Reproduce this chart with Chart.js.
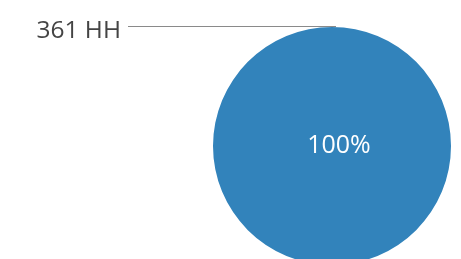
<!DOCTYPE html>
<html><head><meta charset="utf-8">
<script src="https://cdn.jsdelivr.net/npm/chart.js@4.4.1/dist/chart.umd.min.js"></script>
<style>
html,body{margin:0;padding:0;background:#fff;overflow:hidden;width:461px;height:259px;}
#wrap{position:relative;width:461px;height:280px;}
</style></head>
<body><div id="wrap"><canvas id="c" width="461" height="280"></canvas></div>
<script>
const categories = ["361 HH"];
const values = [100];
const sliceLabels = ["100%"];
const colors = ["#3283bb"];

const labelPlugin = {
  id: 'labelPlugin',
  afterDatasetsDraw(chart) {
    const ctx = chart.ctx;
    const meta = chart.getDatasetMeta(0);
    meta.data.forEach((arc, i) => {
      const cx = arc.x, cy = arc.y, r = arc.outerRadius;
      ctx.save();
      ctx.fillStyle = '#ffffff';
      ctx.font = '25px "Open Sans", sans-serif';
      ctx.textAlign = 'center';
      ctx.textBaseline = 'alphabetic';
      ctx.fillText(sliceLabels[i], cx + 7, cy + 7);
      const ly = Math.round(cy - r - 1);
      ctx.strokeStyle = '#8a8a8a';
      ctx.lineWidth = 1;
      ctx.beginPath();
      ctx.moveTo(128, ly + 0.5);
      ctx.lineTo(cx + 4, ly + 0.5);
      ctx.stroke();
      ctx.fillStyle = '#444444';
      ctx.font = '24.5px "Open Sans", sans-serif';
      ctx.textAlign = 'right';
      ctx.textBaseline = 'alphabetic';
      ctx.fillText(categories[i], 121, ly + 12);
      ctx.restore();
    });
  }
};

new Chart(document.getElementById('c'), {
  type: 'pie',
  data: {
    labels: categories,
    datasets: [{ data: values, backgroundColor: colors, borderWidth: 0 }]
  },
  options: {
    responsive: false,
    animation: false,
    layout: { padding: { left: 213, right: 10, top: 27, bottom: 15 } },
    plugins: { legend: { display: false }, tooltip: { enabled: false } }
  },
  plugins: [labelPlugin]
});
</script></body></html>
